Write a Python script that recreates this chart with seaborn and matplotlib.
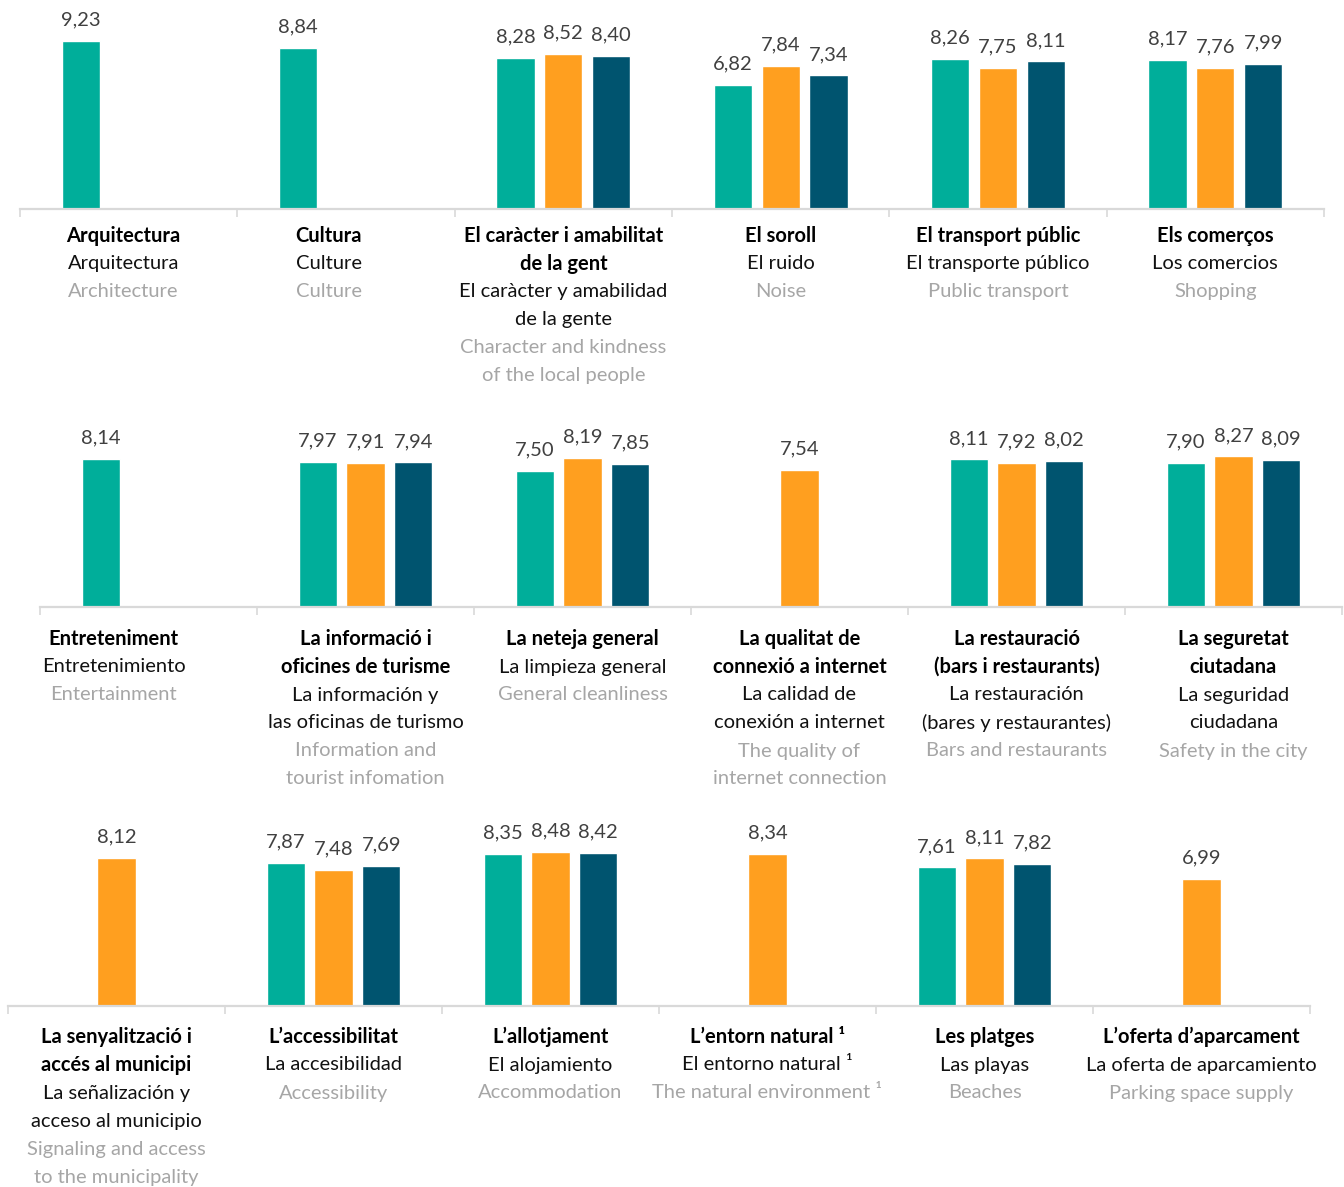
import numpy as np
import pandas as pd
import matplotlib
matplotlib.use('Agg')
import matplotlib.pyplot as plt
import seaborn as sns

series = ['Serie 1', 'Serie 2', 'Serie 3']
colors = ['#00AE9A', '#FF9F1F', '#00546F']
nan = np.nan

# row 1
cat_ca_1 = ['Arquitectura', 'Cultura', 'El caràcter i amabilitat\nde la gent', 'El soroll',
            'El transport públic', 'Els comerços']
cat_es_1 = ['Arquitectura', 'Culture', 'El caràcter y amabilidad\nde la gente', 'El ruido',
            'El transporte público', 'Los comercios']
cat_en_1 = ['Architecture', 'Culture', 'Character and kindness\nof the local people', 'Noise',
            'Public transport', 'Shopping']
s1_1 = [9.23, 8.84, 8.28, 6.82, 8.26, 8.17]
s2_1 = [nan, nan, 8.52, 7.84, 7.75, 7.76]
s3_1 = [nan, nan, 8.40, 7.34, 8.11, 7.99]

# row 2
cat_ca_2 = ['Entreteniment', 'La informació i\noficines de turisme', 'La neteja general',
            'La qualitat de\nconnexió a internet', 'La restauració\n(bars i restaurants)',
            'La seguretat\nciutadana']
cat_es_2 = ['Entretenimiento', 'La información y\nlas oficinas de turismo', 'La limpieza general',
            'La calidad de\nconexión a internet', 'La restauración\n(bares y restaurantes)',
            'La seguridad\nciudadana']
cat_en_2 = ['Entertainment', 'Information and\ntourist infomation', 'General cleanliness',
            'The quality of\ninternet connection', 'Bars and restaurants', 'Safety in the city']
s1_2 = [8.14, 7.97, 7.50, nan, 8.11, 7.90]
s2_2 = [nan, 7.91, 8.19, 7.54, 7.92, 8.27]
s3_2 = [nan, 7.94, 7.85, nan, 8.02, 8.09]

# row 3
cat_ca_3 = ['La senyalització i\naccés al municipi', 'L’accessibilitat', 'L’allotjament',
            'L’entorn natural ¹', 'Les platges', 'L’oferta d’aparcament']
cat_es_3 = ['La señalización y\nacceso al municipio', 'La accesibilidad', 'El alojamiento',
            'El entorno natural ¹', 'Las playas', 'La oferta de aparcamiento']
cat_en_3 = ['Signaling and access\nto the municipality', 'Accessibility', 'Accommodation',
            'The natural environment ¹', 'Beaches', 'Parking space supply']
s1_3 = [nan, 7.87, 8.35, nan, 7.61, nan]
s2_3 = [8.12, 7.48, 8.48, 8.34, 8.11, 6.99]
s3_3 = [nan, 7.69, 8.42, nan, 7.82, nan]

rows = [
    (cat_ca_1, cat_es_1, cat_en_1, [s1_1, s2_1, s3_1]),
    (cat_ca_2, cat_es_2, cat_en_2, [s1_2, s2_2, s3_2]),
    (cat_ca_3, cat_es_3, cat_en_3, [s1_3, s2_3, s3_3]),
]

sns.set_theme(style='white')
plt.rcParams['font.family'] = ['Lato', 'DejaVu Sans']

W, H = 1344, 1187
fig = plt.figure(figsize=(W / 100, H / 100), dpi=100)

# axes boxes in pixels: left, right, baseline, first label offset
boxes = [(20, 1324, 209, 27), (40, 1342, 607, 32), (8, 1310, 1006, 31)]
px_per_unit = 18.2
ymax = 10
line_h = 28
fs = 14.5
# label blocks that sit off-centre in the original (pixels)
nudge = {'Arquitectura': -5, 'Cultura': -17, 'Entreteniment': -35}

for (cats, cats_es, cats_en, vals), (left, right, base, first) in zip(rows, boxes):
    height = ymax * px_per_unit
    ax = fig.add_axes([left / W, (H - base) / H, (right - left) / W, height / H])

    recs = []
    for s, v in zip(series, vals):
        for c, x in zip(cats, v):
            if not np.isnan(x):
                recs.append({'cat': c, 'serie': s, 'valor': x})
    df = pd.DataFrame(recs)

    sns.barplot(data=df, x='cat', y='valor', hue='serie', order=cats, hue_order=series,
                palette=colors, saturation=1, width=0.66, gap=0.2, legend=False, ax=ax)

    for cont in ax.containers:
        labels = [f"{b.get_height():.2f}".replace('.', ',') for b in cont]
        ax.bar_label(cont, labels=labels, padding=9, fontsize=fs, color='#404040')

    ax.set_xlim(-0.5, len(cats) - 0.5)
    ax.set_ylim(0, ymax)
    ax.set_xlabel('')
    ax.set_ylabel('')
    ax.set_yticks([])
    ax.set_xticks(np.arange(-0.5, len(cats), 1))
    ax.set_xticklabels([])
    ax.tick_params(axis='x', length=6, width=1.2, color='#d9d9d9', direction='out', bottom=True)
    for side in ['top', 'left', 'right']:
        ax.spines[side].set_visible(False)
    ax.spines['bottom'].set_color('#d9d9d9')
    ax.spines['bottom'].set_linewidth(1.6)
    ax.patch.set_alpha(0)

    # three-language labels under each group
    for i, (ca, es, en) in enumerate(zip(cats, cats_es, cats_en)):
        dx = nudge.get(ca, 0)
        k = 0
        for text, weight, col in [(ca, 'bold', '#000000'), (es, 'normal', '#111111'),
                                  (en, 'normal', '#a6a6a6')]:
            for line in text.split('\n'):
                ax.annotate(line, xy=(i, 0), xycoords='data',
                            xytext=(dx, -(first + k * line_h)), textcoords='offset pixels',
                            ha='center', va='center', fontsize=fs, fontweight=weight,
                            color=col, annotation_clip=False)
                k += 1

fig.savefig('out.png', dpi=100)
